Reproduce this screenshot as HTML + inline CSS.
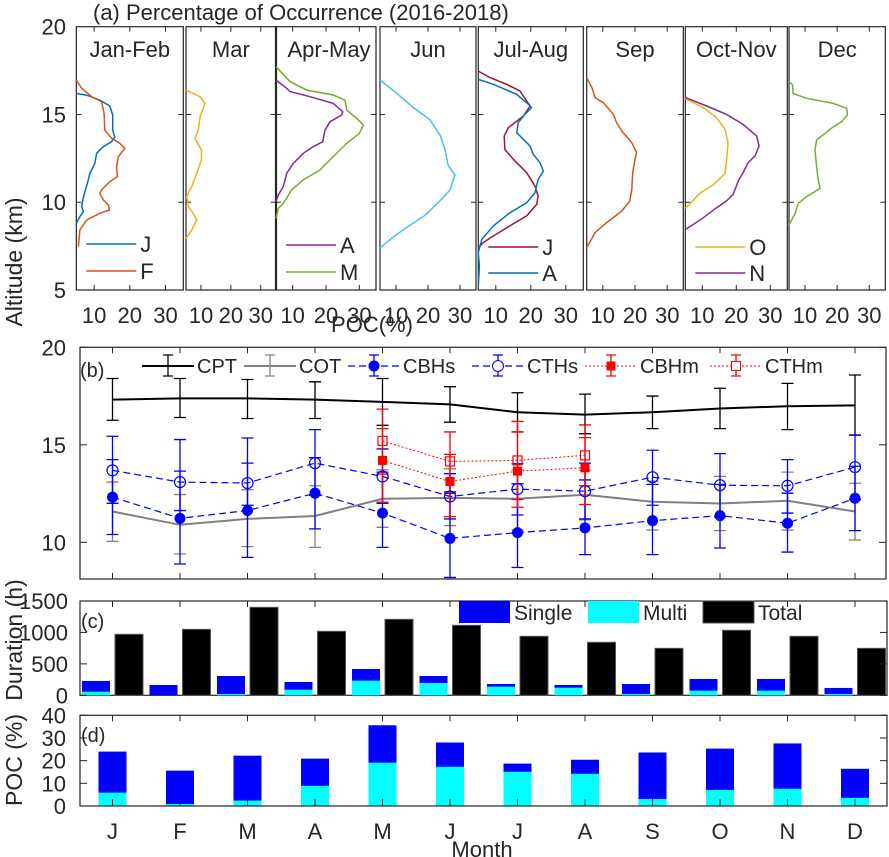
<!DOCTYPE html>
<html><head><meta charset="utf-8"><style>
html,body{margin:0;padding:0;background:#fff;}
svg{display:block;font-family:"Liberation Sans",Arial,sans-serif;}
text{fill:#262626;font-size:22px;}
</style></head><body>
<svg id="chart" width="889" height="857" viewBox="0 0 889 857" xmlns="http://www.w3.org/2000/svg"></svg>
<script>
// ===== Panel (a) profile data: altitude (km) and POC (%) =====
const janAlt=[16.2,16.1,15.82,15.48,14.97,14.1,13.73,13.45,13.17,12.79,12.2,11.65,11.08,10.3,9.75,9.46,9.18,8.8];
const janPoc=[5,7.9,11.6,14.4,15.2,15.2,15.8,14.9,12.6,10.7,10.2,8.8,8.1,7.0,6.5,7.0,6.0,5];
const febAlt=[16.96,16.49,16.01,15.73,15.06,14.11,13.64,13.35,13.07,12.6,12.03,11.46,11.17,10.7,10.5,10.13,9.84,9.56,9.37,8.99,8.42,7.47];
const febPoc=[5,6.5,9.3,12.1,12.8,13.0,14.9,17.2,18.6,16.8,16.3,16.5,14.4,12.1,11.6,12.6,14.0,14.3,11.6,7.9,6.0,5.6];
const marAlt=[16.39,16.01,15.63,14.87,14.11,13.64,12.97,12.41,11.65,10.89,10.32,9.75,9.37,8.99,8.42,7.94];
const marPoc=[5,9.7,11.4,9.7,9.1,8.0,10.2,10.2,8.6,6.9,5.2,5.8,7.4,8.6,6.9,5];
const aprAlt=[16.96,16.49,16.3,16.01,15.63,15.16,14.97,14.59,14.11,13.45,13.17,12.79,12.22,11.65,10.89,10.41,10.03];
const aprPoc=[5,8.2,9.2,15.2,22.2,25.0,24.7,21.2,19.7,19.0,16.2,13.2,10.2,8.2,7.2,5.7,5];
const mayAlt=[17.72,16.87,16.39,16.11,15.82,15.25,14.78,14.4,13.92,13.35,12.41,11.84,11.27,10.7,9.94,9.65,9.08];
const mayPoc=[5,9.2,14.2,22.2,25.7,26.2,29.2,31.2,30.0,26.2,21.2,18.2,13.2,9.7,7.2,5.7,5];
const junAlt=[16.96,16.2,15.4,14.7,13.8,13.0,12.1,11.55,10.7,10.1,9.26,8.7,8.1,7.4];
const junPoc=[5,10.3,15.3,20.6,23.8,25.3,26.3,28.4,26.9,23.8,19.1,14.4,9.7,5];
const julAlt=[17.47,17.1,16.72,16.34,15.48,14.91,14.25,13.77,13.01,12.45,11.69,10.92,10.35,9.88,9.22,8.65,8.08,7.7,7.41];
const julPoc=[5,8.3,13.1,16.9,19.8,17.9,13.6,12.4,12.6,15.0,18.8,21.2,22.1,21.7,18.8,14.0,9.3,6.4,5];
const augAlt=[17.0,16.72,16.15,15.58,15.39,15.01,14.53,13.96,13.58,13.2,12.73,12.25,11.78,11.3,10.54,9.97,9.4,8.65,7.89,7.13,6.37,5.23];
const augPoc=[5,9.3,15.9,19.3,20.2,18.3,16.4,16.0,17.9,19.8,20.7,22.6,23.6,22.1,21.2,18.8,14.0,9.3,6.0,5,5.3,5];
const sepAlt=[17.09,16.53,15.96,15.67,15.01,14.53,14.06,13.39,12.82,12.45,11.69,10.73,10.07,9.5,8.84,8.27,7.41];
const sepPoc=[5,6.6,7.6,10.2,13.3,14.3,15.9,19.0,20.5,20.0,19.3,19.0,18.4,15.9,11.2,7.6,5];
const octAlt=[15.9,15.39,14.82,14.15,13.39,12.5,11.65,10.99,10.51,10.03,9.65];
const octPoc=[5,10.3,14.2,16.7,17.6,17.2,16.7,13.2,9.3,6.9,5];
const novAlt=[15.96,15.48,15.01,14.44,13.77,13.2,12.64,12.26,11.69,11.22,10.45,10.07,9.69,9.12,8.74,8.46];
const novPoc=[5,11.3,17.1,22.0,26.0,26.7,25.5,23.5,22.0,20.6,19.1,17.1,14.2,10.3,7.4,5];
const decAlt=[16.87,16.68,16.2,15.92,15.63,15.35,14.97,14.59,14.3,13.92,13.55,12.98,12.03,11.27,10.79,10.32,9.94,9.37,8.71];
const decPoc=[5,6.1,6.3,10.5,18.8,23.0,23.2,21.4,18.8,16.2,13.6,13.1,13.6,14.1,14.7,10.5,7.9,6.9,5];
const panelTitles=["Jan-Feb","Mar","Apr-May","Jun","Jul-Aug","Sep","Oct-Nov","Dec"];
const pocTicks=[10,20,30];
const altTicks=[5,10,15,20];

// ===== Panel (b) data =====
const months=[1,2,3,4,5,6,7,8,9,10,11,12];
const monthLabels=["J","F","M","A","M","J","J","A","S","O","N","D"];
const cpt=[17.32,17.38,17.38,17.32,17.2,17.07,16.67,16.55,16.67,16.86,16.98,17.02];
const cptHi=[18.4,18.4,18.35,18.23,18.4,17.98,17.67,17.6,17.5,17.9,18.15,18.58];
const cptLo=[16.26,16.4,16.35,16.35,16.0,16.16,15.66,15.57,15.83,15.83,15.78,15.5];
const cot=[11.58,10.9,11.2,11.35,12.23,12.28,12.23,12.44,12.08,11.99,12.13,11.58];
const cotHi=[13.09,12.45,12.7,12.9,13.72,13.77,13.72,13.69,13.14,13.38,13.6,13.03];
const cotLo=[10.05,9.4,9.78,9.74,10.77,10.86,10.63,11.15,10.63,10.6,10.63,10.12];
const cbhs=[12.32,11.23,11.63,12.52,11.5,10.2,10.5,10.74,11.11,11.37,10.98,12.26];
const cbhsHi=[14.24,13.65,14.06,14.34,13.6,12.52,13.0,13.2,12.97,12.97,12.52,13.9];
const cbhsLo=[10.4,8.89,9.23,10.69,9.74,8.2,8.71,9.37,9.37,9.71,9.5,10.6];
const cths=[13.69,13.09,13.04,14.06,13.38,12.35,12.73,12.62,13.34,12.93,12.9,13.86];
const cthsHi=[15.44,15.27,15.35,15.78,14.79,13.52,14.03,14.06,14.72,14.55,14.24,15.5];
const cthsLo=[12.0,11.63,11.9,12.4,12.0,11.2,11.4,11.2,11.9,11.3,11.5,12.2];
const mMonths=[5,6,7,8];
const cbhm=[14.2,13.12,13.65,13.82];
const cbhmHi=[15.83,14.51,15.66,15.37];
const cbhmLo=[12.06,11.32,11.8,11.94];
const cthm=[15.2,14.15,14.2,14.46];
const cthmHi=[16.83,15.66,16.2,16.02];
const cthmLo=[13.5,12.6,12.2,12.9];
const altTicksB=[10,15,20];

// ===== Panel (c) data: duration (h) =====
const singleDur=[170,164,286,122,186,111,42,42,159,186,186,96];
const multiDur=[58,0,21,90,233,196,138,122,21,74,74,21];
const totalDur=[970,1049,1399,1018,1208,1113,938,843,747,1034,938,747];
const durTicks=[0,500,1000,1500];

// ===== Panel (d) data: POC (%) =====
const singlePoc=[18.1,14.7,19.8,12.0,16.5,10.7,3.6,6.2,20.5,18.2,20.0,12.8];
const multiPoc=[5.9,0.9,2.4,8.9,19.1,17.3,15.1,14.2,3.1,7.1,7.6,3.6];
const pocTicksD=[0,10,20,30,40];

const NS="http://www.w3.org/2000/svg";
const svg=document.getElementById('chart');
function mk(tag,attrs){const e=document.createElementNS(NS,tag);for(const k in attrs)e.setAttribute(k,attrs[k]);svg.appendChild(e);return e;}
function txt(x,y,s,anchor,size){const e=mk('text',{x:x,y:y,'text-anchor':anchor||'middle'});if(size)e.style.fontSize=size+'px';e.textContent=s;return e;}

// ---------- Panel (a) ----------
const P=[{l:76.3,r:183.3},{l:186,r:275.7},{l:276,r:376},{l:380,r:476},{l:478.3,r:583.3},{l:586.7,r:683.3},{l:685.3,r:787.3},{l:789,r:885.3}];
const aTop=26.7,aBot=290;
function yA(v){return aTop+(20-v)/15*(aBot-aTop);}
function xA(p,v){return P[p].l+(v-5)/30*(P[p].r-P[p].l);}

let t=txt(93,20,"(a)  Percentage of Occurrence (2016-2018)",'start',22);



const profiles=[
 {p:0,alt:janAlt,poc:janPoc,c:'#0072BD',n:'profile-jan'},
 {p:0,alt:febAlt,poc:febPoc,c:'#D95319',n:'profile-feb'},
 {p:1,alt:marAlt,poc:marPoc,c:'#EDB120',n:'profile-mar'},
 {p:2,alt:aprAlt,poc:aprPoc,c:'#7E2F8E',n:'profile-apr'},
 {p:2,alt:mayAlt,poc:mayPoc,c:'#77AC30',n:'profile-may'},
 {p:3,alt:junAlt,poc:junPoc,c:'#4DBEEE',n:'profile-jun'},
 {p:4,alt:julAlt,poc:julPoc,c:'#A2142F',n:'profile-jul'},
 {p:4,alt:augAlt,poc:augPoc,c:'#0072BD',n:'profile-aug'},
 {p:5,alt:sepAlt,poc:sepPoc,c:'#D95319',n:'profile-sep'},
 {p:6,alt:octAlt,poc:octPoc,c:'#EDB120',n:'profile-oct'},
 {p:6,alt:novAlt,poc:novPoc,c:'#7E2F8E',n:'profile-nov'},
 {p:7,alt:decAlt,poc:decPoc,c:'#77AC30',n:'profile-dec'}
];

P.forEach((pp,i)=>{
  const r=mk('rect',{x:pp.l,y:aTop,width:pp.r-pp.l,height:aBot-aTop,fill:'#fff',stroke:'#262626','stroke-width':1.2});
  
  
  pocTicks.forEach(v=>{
    const x=xA(i,v);
    mk('line',{x1:x,x2:x,y1:aTop,y2:aTop+5,stroke:'#262626'});
    mk('line',{x1:x,x2:x,y1:aBot,y2:aBot-5,stroke:'#262626'});
    const tl=txt(x,323,String(v));
    
    
  });
  [10,15].forEach(v=>{
    mk('line',{x1:pp.l,x2:pp.l+5,y1:yA(v),y2:yA(v),stroke:'#262626'});
    mk('line',{x1:pp.r,x2:pp.r-5,y1:yA(v),y2:yA(v),stroke:'#262626'});
  });
  const tt=txt((pp.l+pp.r)/2+(i===2?3:0),57,panelTitles[i]);
  
  
});
const thick=mk('line',{x1:276,x2:276,y1:aTop,y2:aBot,stroke:'#262626','stroke-width':2.2});



profiles.forEach(pr=>{
  const pts=pr.alt.map((a,i)=>xA(pr.p,pr.poc[i]).toFixed(1)+','+yA(a).toFixed(1)).join(' ');
  const pl=mk('polyline',{points:pts,fill:'none',stroke:pr.c,'stroke-width':1.5});
  
  
});
altTicks.forEach(v=>{
  const tl=txt(66,yA(v)+8,String(v),'end');
  
  
});
const legA=[[0,'J','#0072BD',244],[0,'F','#D95319',271],[2,'A','#7E2F8E',245],[2,'M','#77AC30',272],[4,'J','#A2142F',247],[4,'A','#0072BD',273],[6,'O','#EDB120',247],[6,'N','#7E2F8E',273]];
legA.forEach(l=>{
  const x0=P[l[0]].l+10;
  const ln=mk('line',{x1:x0,x2:x0+50,y1:l[3],y2:l[3],stroke:l[2],'stroke-width':1.5});
  
  
  const lt=txt(x0+54,l[3]+8,l[1],'start');
  
  
});
t=txt(372,332,"POC(%)");


t=mk('text',{x:0,y:0,'text-anchor':'middle',transform:'translate(22,262) rotate(-90)'});
t.style.fontSize='23px';
t.textContent="Altitude (km)";



// ---------- Panel (b) ----------
const bL=80,bR=886,bT=347.3,bB=579;
function xM(m){return 112.5+(m-1)*67.5;}
function yB(v){return bT+(20-v)*(bB-bT)/11.88;}
let fr=mk('rect',{x:bL,y:bT,width:bR-bL,height:bB-bT,fill:'none',stroke:'#262626','stroke-width':1.2});


months.forEach(m=>{
  mk('line',{x1:xM(m),x2:xM(m),y1:bT,y2:bT+6,stroke:'#262626'});
  mk('line',{x1:xM(m),x2:xM(m),y1:bB,y2:bB-6,stroke:'#262626'});
});
altTicksB.forEach(v=>{
  mk('line',{x1:bL,x2:bL+7,y1:yB(v),y2:yB(v),stroke:'#262626'});
  mk('line',{x1:bR,x2:bR-7,y1:yB(v),y2:yB(v),stroke:'#262626'});
  const tl=txt(66,yB(v)+8,String(v),'end');
  
  
});
t=txt(80,377,"(b)",'start',20);



function series(xs,vals,hi,lo,color,width,dash,name){
  const pts=xs.map((m,i)=>xM(m).toFixed(1)+','+yB(vals[i]).toFixed(1)).join(' ');
  const a={points:pts,fill:'none',stroke:color,'stroke-width':width};
  if(dash)a['stroke-dasharray']=dash;
  const pl=mk('polyline',a);
  
  
  xs.forEach((m,i)=>{
    const x=xM(m);
    const g=mk('path',{d:`M${x},${yB(hi[i])}V${yB(lo[i])}M${x-6},${yB(hi[i])}H${x+6}M${x-6},${yB(lo[i])}H${x+6}`,stroke:color,'stroke-width':1.3,fill:'none'});
    
    
  });
}
series(months,cot,cotHi,cotLo,'#808080',2,null,'cot');
series(months,cpt,cptHi,cptLo,'#000',2,null,'cpt');
series(months,cbhs,cbhsHi,cbhsLo,'#0000ff',1.2,'7,4','cbhs');
series(months,cths,cthsHi,cthsLo,'#0000ff',1.2,'7,4','cths');
series(mMonths,cbhm,cbhmHi,cbhmLo,'#ff0000',1,'2,2','cbhm');
series(mMonths,cthm,cthmHi,cthmLo,'#ff0000',1,'2,2','cthm');
months.forEach((m,i)=>{
  const c=mk('circle',{cx:xM(m),cy:yB(cbhs[i]),r:5.5,fill:'#0000ff'});
  
  
  const o=mk('circle',{cx:xM(m),cy:yB(cths[i]),r:5.5,fill:'none',stroke:'#0000ff','stroke-width':1.2});
  
  
});
mMonths.forEach((m,i)=>{
  const s=mk('rect',{x:xM(m)-4.5,y:yB(cbhm[i])-4.5,width:9,height:9,fill:'#ff0000'});
  
  
  const o=mk('rect',{x:xM(m)-4.5,y:yB(cthm[i])-4.5,width:9,height:9,fill:'none',stroke:'#ff0000','stroke-width':1.2});
  
  
});
// legend b
const legB=[[142,'CPT','#000',null,null,2],[244,'COT','#808080',null,null,2],[348,'CBHs','#0000ff','7,4','fc',1.2],[472,'CTHs','#0000ff','7,4','oc',1.2],[585,'CBHm','#ff0000','2,2','fs',1],[710,'CTHm','#ff0000','2,2','os',1]];
legB.forEach(l=>{
  const x0=l[0],x1=x0+52,xm=(x0+x1)/2,y=366;
  const a={x1:x0,x2:x1,y1:y,y2:y,stroke:l[2],'stroke-width':l[5]};
  if(l[3])a['stroke-dasharray']=l[3];
  const ln=mk('line',a);
  
  
  mk('path',{d:`M${xm},355V376M${xm-5},355H${xm+5}M${xm-5},376H${xm+5}`,stroke:l[2],'stroke-width':1.3,fill:'none'});
  if(l[4]==='fc')mk('circle',{cx:xm,cy:y,r:5.5,fill:l[2]});
  if(l[4]==='oc')mk('circle',{cx:xm,cy:y,r:5.5,fill:'#fff',stroke:l[2]});
  if(l[4]==='fs')mk('rect',{x:xm-4.5,y:y-4.5,width:9,height:9,fill:l[2]});
  if(l[4]==='os')mk('rect',{x:xm-4.5,y:y-4.5,width:9,height:9,fill:'#fff',stroke:l[2]});
  const lt=txt(x1+3,373,l[1],'start',20);
  
  
});

// ---------- Panel (c) ----------
const cL=80,cR=887,cT=601,cB=695.3;
function yC(v){return cB-v/1500*(cB-cT);}
fr=mk('rect',{x:cL,y:cT,width:cR-cL,height:cB-cT,fill:'none',stroke:'#262626','stroke-width':1.2});


months.forEach((m,i)=>{
  mk('line',{x1:xM(m),x2:xM(m),y1:cT,y2:cT+6,stroke:'#262626'});
  const xs=xM(m)-30.5;
  const b1=mk('rect',{x:xs,y:yC(singleDur[i]+multiDur[i]),width:28,height:yC(0)-yC(singleDur[i]+multiDur[i]),fill:'#0000ff'});
  
  
  const b2=mk('rect',{x:xs,y:yC(multiDur[i]),width:28,height:yC(0)-yC(multiDur[i]),fill:'#00ffff'});
  
  
  const b3=mk('rect',{x:xM(m)+2.5,y:yC(totalDur[i]),width:28,height:yC(0)-yC(totalDur[i]),fill:'#000',stroke:'#555','stroke-width':1});
  
  
});
durTicks.forEach(v=>{
  mk('line',{x1:cL,x2:cL+7,y1:yC(v),y2:yC(v),stroke:'#262626'});
  mk('line',{x1:cR,x2:cR-7,y1:yC(v),y2:yC(v),stroke:'#262626'});
  const tl=txt(68,yC(v)+8,String(v),'end');
  
  
});
t=txt(81,628,"(c)",'start',20);


const legC=[[459,'Single','#0000ff'],[588,'Multi','#00ffff'],[703,'Total','#000']];
legC.forEach(l=>{
  const r=mk('rect',{x:l[0],y:601,width:51,height:22,fill:l[2],stroke:l[2]==='#000'?'#555':'none'});
  
  
  const lt=txt(l[0]+55,620,l[1],'start',21);
  
  
});
t=mk('text',{x:0,y:0,'text-anchor':'middle',transform:'translate(22,640) rotate(-90)'});
t.style.fontSize='23px';
t.textContent="Duration (h)";



// ---------- Panel (d) ----------
const dL=80,dR=887,dT=715.3,dB=806;
function yD(v){return dB-v/40*(dB-dT);}
months.forEach((m,i)=>{
  const x=xM(m)-14;
  const b1=mk('rect',{x:x,y:yD(singlePoc[i]+multiPoc[i]),width:28,height:yD(0)-yD(singlePoc[i]+multiPoc[i]),fill:'#0000ff'});
  
  
  const b2=mk('rect',{x:x,y:yD(multiPoc[i]),width:28,height:yD(0)-yD(multiPoc[i]),fill:'#00ffff'});
  
  
  mk('line',{x1:xM(m),x2:xM(m),y1:dT,y2:dT+6,stroke:'#262626'});
  mk('line',{x1:xM(m),x2:xM(m),y1:dB,y2:dB-7,stroke:'#262626'});
  const ml=txt(xM(m),839,monthLabels[i]);
  
  
});
fr=mk('rect',{x:dL,y:dT,width:dR-dL,height:dB-dT,fill:'none',stroke:'#262626','stroke-width':1.2});


pocTicksD.forEach(v=>{
  mk('line',{x1:dL,x2:dL+7,y1:yD(v),y2:yD(v),stroke:'#262626'});
  mk('line',{x1:dR,x2:dR-7,y1:yD(v),y2:yD(v),stroke:'#262626'});
  const tl=txt(66,yD(v)+8,String(v),'end');
  
  
});
t=txt(81,742,"(d)",'start',20);


t=mk('text',{x:0,y:0,'text-anchor':'middle',transform:'translate(22,760) rotate(-90)'});
t.style.fontSize='23px';
t.textContent="POC (%)";


t=txt(482,857,"Month");


</script>
</body></html>
